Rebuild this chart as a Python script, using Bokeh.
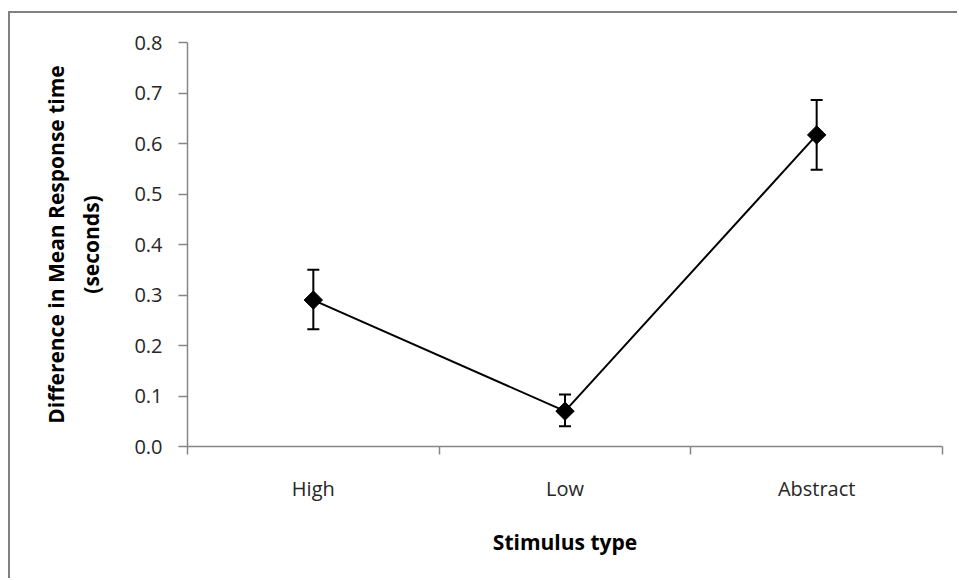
from math import pi

from bokeh.embed import file_html
from bokeh.models import (ColumnDataSource, FixedTicker, NumeralTickFormatter,
                          Range1d, TeeHead, Whisker)
from bokeh.plotting import figure
from bokeh.resources import INLINE

# Stimulus categories and mean response-time differences (seconds)
categories = ["High", "Low", "Abstract"]
means = [0.29, 0.07, 0.617]
err_low = [0.232, 0.040, 0.548]
err_high = [0.350, 0.103, 0.686]
y_ticks = [0.0, 0.1, 0.2, 0.3, 0.4, 0.5, 0.6, 0.7, 0.8]

FONT = "Open Sans"
AXIS_GREY = "#868686"

xs = [i + 0.5 for i in range(len(categories))]
src = ColumnDataSource(dict(x=xs, cat=categories, mean=means,
                            lo=err_low, hi=err_high))

p = figure(width=949, height=567, output_backend="svg", toolbar_location=None,
           x_range=Range1d(0, len(categories)), y_range=Range1d(0, 0.8),
           min_border_left=177, min_border_right=17,
           min_border_top=29, min_border_bottom=134)
# Outer chart border (top and left edges of the chart area)
p.styles = {"margin-left": "8px", "margin-top": "11px",
            "border-left": "2px solid #808080", "border-top": "2px solid #808080"}
p.outline_line_color = None
p.xgrid.visible = False
p.ygrid.visible = False

# Error bars
p.add_layout(Whisker(source=src, base="x", lower="lo", upper="hi",
                     line_color="black", line_width=2,
                     upper_head=TeeHead(size=12, line_color="black", line_width=2),
                     lower_head=TeeHead(size=12, line_color="black", line_width=2)))

p.line("x", "mean", source=src, line_color="black", line_width=2)
p.scatter("x", "mean", source=src, marker="square", angle=pi / 4, size=13,
          fill_color="black", line_color="black")

# Y axis
ya = p.yaxis[0]
ya.ticker = FixedTicker(ticks=y_ticks)
ya.formatter = NumeralTickFormatter(format="0.0")
ya.minor_tick_line_color = None
ya.major_tick_in = 0
ya.major_tick_out = 9
ya.axis_line_color = AXIS_GREY
ya.major_tick_line_color = AXIS_GREY
ya.axis_line_width = 1.5
ya.major_tick_line_width = 1.5
ya.major_label_text_font = FONT
ya.major_label_text_font_size = "20px"
ya.major_label_text_color = "#262626"
ya.major_label_standoff = 16
ya.axis_label = "Difference in Mean Response time\n(seconds)"
ya.axis_label_text_font = FONT
ya.axis_label_text_font_size = "21px"
ya.axis_label_text_font_style = "bold"
ya.axis_label_text_color = "black"
ya.axis_label_text_line_height = 1.25
ya.axis_label_standoff = 26

# X axis: labels at category centres, tick marks at category boundaries
xa = p.xaxis[0]
xa.ticker = FixedTicker(ticks=xs, minor_ticks=list(range(len(categories) + 1)))
xa.major_label_overrides = {x: c for x, c in zip(xs, categories)}
xa.major_tick_in = 0
xa.major_tick_out = 0
xa.minor_tick_in = 0
xa.minor_tick_out = 8
xa.axis_line_color = AXIS_GREY
xa.minor_tick_line_color = AXIS_GREY
xa.axis_line_width = 1.5
xa.minor_tick_line_width = 1.5
xa.major_label_text_font = FONT
xa.major_label_text_font_size = "20px"
xa.major_label_text_color = "#262626"
xa.major_label_standoff = 20
xa.axis_label = "Stimulus type"
xa.axis_label_text_font = FONT
xa.axis_label_text_font_size = "21px"
xa.axis_label_text_font_style = "bold"
xa.axis_label_text_color = "black"
xa.axis_label_standoff = 23

open("out.html", "w").write(file_html(p, INLINE))
